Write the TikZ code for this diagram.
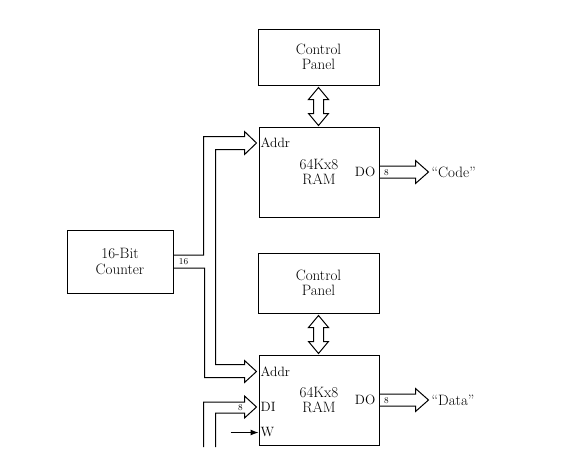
\documentclass[tikz,border=0pt]{standalone}
\usepackage{tikz}
\usetikzlibrary{arrows.meta,
    calc,
    positioning}

\tikzset{
  blk/.style={draw, line width=1pt, align=center, inner sep=0pt,
    font=\fontsize{15}{15.5}\selectfont},
  pinlab/.style={font=\fontsize{13.5}{13.5}\selectfont, inner sep=1pt},
  width/.style={font=\fontsize{9}{9}\selectfont, inner sep=0pt},
  bus/.style={draw, line width=1pt, line join=miter},
}

\begin{document}
\begin{tikzpicture}[x=1pt,y=-1pt]
                  \useasboundingbox (0,0) rectangle (580,464);
                  % boxes
                  \node[blk, minimum width=121pt, minimum height=56pt] (panA) at (318.5,57) {Control\\Panel};
                  \node[blk, minimum width=120pt, minimum height=90pt] (ramA) at (319,172) {64Kx8\\RAM};
                  \node[blk, minimum width=106pt, minimum height=63pt] (cnt) at (120,261.5) {16-Bit\\Counter};
                  \node[blk, minimum width=121pt, minimum height=60pt] (panB) at (318.5,283) {Control\\Panel};
                  \node[blk, minimum width=120pt, minimum height=90pt] (ramB) at (319,400) {64Kx8\\RAM};
                  % pin labels
                  \node[pinlab, anchor=west] (addrA) at ($(ramA.north west)+(1,16.5)$) {Addr};
                  \node[pinlab, anchor=east] (doA) at ($(ramA.east)+(-3,0)$) {DO};
                  \node[pinlab, anchor=west] (addrB) at ($(ramB.north west)+(1,17)$) {Addr};
                  \node[pinlab, anchor=west] (diB) at ($(ramB.west)+(1,7)$) {DI};
                  \node[pinlab, anchor=west] (wB) at ($(ramB.south west)+(1,-13)$) {W};
                  \node[pinlab, anchor=east] (doB) at ($(ramB.east)+(-3,0)$) {DO};
                  % arrow tips on the boxes
                  \coordinate (tipA) at ($(ramA.north west)+(-2,16.5)$);
                  \coordinate (tipB) at ($(ramB.north west)+(-2,17)$);
                  \coordinate (tipD) at ($(ramB.west)+(-2,7)$);
                  \coordinate (wsrc) at ($(ramB.south west)+(-28,-13)$);
                  % panel <-> ram
                  \draw[bus] ($(panA.south)+(0,2)$) -- ++(10,12) -- ++(-5,0) -- ++(0,14) -- ++(5,0)
                      -- ++(-10,12) -- ++(-10,-12) -- ++(5,0) -- ++(0,-14) -- ++(-5,0) -- cycle;
                  \draw[bus] ($(panB.south)+(0,2)$) -- ++(10,12) -- ++(-5,0) -- ++(0,14) -- ++(5,0)
                      -- ++(-10,12) -- ++(-10,-12) -- ++(5,0) -- ++(0,-14) -- ++(-5,0) -- cycle;
                  % counter -> both Addr
                  \draw[bus] ($(cnt.east)+(0,-6.5)$) -| ($(tipA)+(-53,-6.5)$) -- ++(41,0) -- ++(0,-5)
                      -- (tipA) -- ++(-12,11.5) -- ++(0,-5) -| ($(tipB)+(-41,-7)$) -- ++(29,0)
                      -- ++(0,-4) -- (tipB) -- ++(-12,11) -- ++(0,-5) -| ($(cnt.east)+(31,6.5)$)
                      -- ($(cnt.east)+(0,6.5)$);
                  \node[width] (w16) at ($(cnt.east)+(10,0.5)$) {16};
                  % data in
                  \draw[bus] ($(tipD)+(-53,40)$) |- ($(tipD)+(-12,-5)$) -- ++(0,-6) -- (tipD)
                      -- ++(-12,11) -- ++(0,-5) -| ($(tipD)+(-41,40)$);
                  \node[width] (w8c) at ($(tipD)+(-16,0.5)$) {8};
                  % write
                  \draw[line width=1pt, -{Latex[length=8pt,width=6pt]}] (wsrc) -- (wsrc -| ramB.west);
                  % data out
                  \draw[bus] ($(ramA.east)+(0,-6)$) -- ++(36,0) -- ++(0,-5.5) -- ++(13,11.5)
                      -- ++(-13,11.5) -- ++(0,-5.5) -- ++(-36,0);
                  \node[width] (w8a) at ($(ramA.east)+(7,0.5)$) {8};
                  \node[pinlab, anchor=west, font=\fontsize{15}{15}\selectfont] (code) at ($(ramA.east)+(51,0)$) {``Code''};
                  \draw[bus] ($(ramB.east)+(0,-6)$) -- ++(36,0) -- ++(0,-5.5) -- ++(13,11.5)
                      -- ++(-13,11.5) -- ++(0,-5.5) -- ++(-36,0);
                  \node[width] (w8b) at ($(ramB.east)+(7,0.5)$) {8};
                  \node[pinlab, anchor=west, font=\fontsize{15}{15}\selectfont] (data) at ($(ramB.east)+(51,0)$) {``Data''};
              \end{tikzpicture}
\end{document}
